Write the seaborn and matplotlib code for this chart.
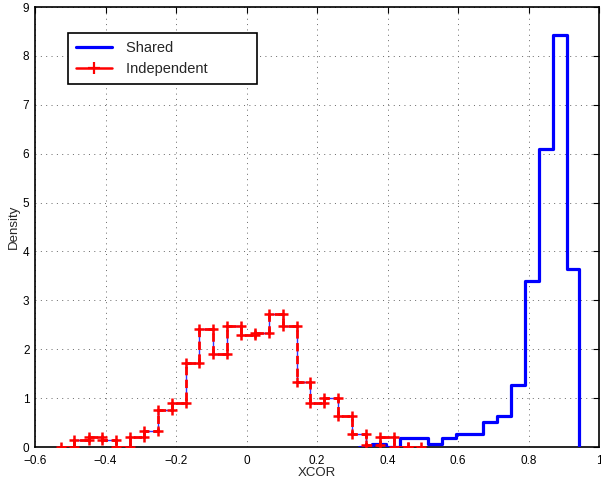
import numpy as np
import pandas as pd
import matplotlib
matplotlib.use("Agg")
import matplotlib.pyplot as plt
from matplotlib.lines import Line2D
import seaborn as sns

# ---- data ----
indep_edges = [-0.527, -0.488, -0.448, -0.409, -0.370, -0.330, -0.291, -0.252, -0.212,
               -0.173, -0.134, -0.094, -0.055, -0.015, 0.024, 0.063, 0.103, 0.142,
               0.181, 0.221, 0.260, 0.299, 0.339, 0.378, 0.418, 0.457, 0.496]
indep_density = [0.0, 0.14, 0.20, 0.14, 0.0, 0.20, 0.33, 0.76, 0.89, 1.71, 2.41, 1.91,
                 2.48, 2.29, 2.34, 2.73, 2.48, 1.33, 0.89, 1.01, 0.63, 0.26, 0.05, 0.20,
                 0.0, 0.0]

shared_edges = [0.318, 0.357, 0.397, 0.436, 0.475, 0.515, 0.554, 0.593, 0.633, 0.672,
                0.711, 0.751, 0.790, 0.829, 0.869, 0.908, 0.944]
shared_density = [0.0, 0.07, 0.0, 0.19, 0.19, 0.07, 0.18, 0.26, 0.26, 0.51, 0.64, 1.27,
                  3.39, 6.10, 8.43, 3.65]

x_ticks = [-0.6, -0.4, -0.2, 0, 0.2, 0.4, 0.6, 0.8, 1]
x_tick_labels = ["\u22120.6", "\u22120.4", "\u22120.2", "0", "0.2", "0.4", "0.6", "0.8", "1"]
y_ticks = list(range(0, 10))
series_names = ["Shared", "Independent"]


def stairs(edges, values, close=False):
    xs, ys = [], []
    for i, v in enumerate(values):
        xs += [edges[i], edges[i + 1]]
        ys += [v, v]
    if close:
        xs.append(edges[-1])
        ys.append(0.0)
    return pd.DataFrame({"x": xs, "y": ys})


shared_df = stairs(shared_edges, shared_density, close=True)
indep_df = stairs(indep_edges, indep_density)

sns.set_style("white")
plt.rcParams["font.family"] = ["Liberation Sans", "DejaVu Sans"]

fig = plt.figure(figsize=(6.01, 4.80), dpi=100)
ax = fig.add_axes([35 / 601, 33 / 480, 564 / 601, 440 / 480])

sns.lineplot(data=shared_df, x="x", y="y", sort=False, estimator=None, ax=ax,
             color="#0000ff", linewidth=2.3, zorder=3)
sns.lineplot(data=indep_df, x="x", y="y", sort=False, estimator=None, ax=ax,
             color="#0000ff", linewidth=1.0, alpha=0.8, zorder=4)
sns.lineplot(data=indep_df, x="x", y="y", sort=False, estimator=None, ax=ax,
             color="#ff0000", linewidth=2.0, linestyle=(0, (3, 1.6)),
             marker="+", markersize=7, markeredgewidth=1.8,
             markeredgecolor="#ff0000", zorder=5)

ax.set_xlim(-0.6, 1.0)
ax.set_ylim(0, 9)
ax.set_xticks(x_ticks)
ax.set_xticklabels(x_tick_labels)
ax.set_yticks(y_ticks)
ax.tick_params(direction="in", length=4, width=0.8, top=True, right=True,
               labelsize=8.5, colors="black")
ax.tick_params(axis="x", pad=6)
ax.tick_params(axis="y", pad=4)
ax.grid(True, linestyle=(0, (1, 4.5)), color="#666666", linewidth=0.7)
for s in ax.spines.values():
    s.set_visible(True)
    s.set_color("black")
    s.set_linewidth(1.2)

ax.set_xlabel("XCOR", fontsize=9.5, labelpad=0)
ax.set_ylabel("Density", fontsize=9.5, labelpad=2)

handles = [
    Line2D([], [], color="#0000ff", linewidth=2.3),
    Line2D([], [], color="#ff0000", linewidth=1.8, marker="+", markersize=8,
           markeredgewidth=1.6),
]
labels = [series_names[0] + " " * 16, series_names[1] + " " * 10]
leg = ax.legend(handles, labels, loc="upper left",
                bbox_to_anchor=(33 / 564, 1 - 26 / 440), fontsize=10.5, frameon=True,
                fancybox=False, edgecolor="black", framealpha=1,
                borderpad=0.55, handlelength=2.5, handletextpad=0.9,
                labelspacing=0.5, borderaxespad=0)
leg.get_frame().set_linewidth(1.2)

fig.savefig("out.png", dpi=100)
